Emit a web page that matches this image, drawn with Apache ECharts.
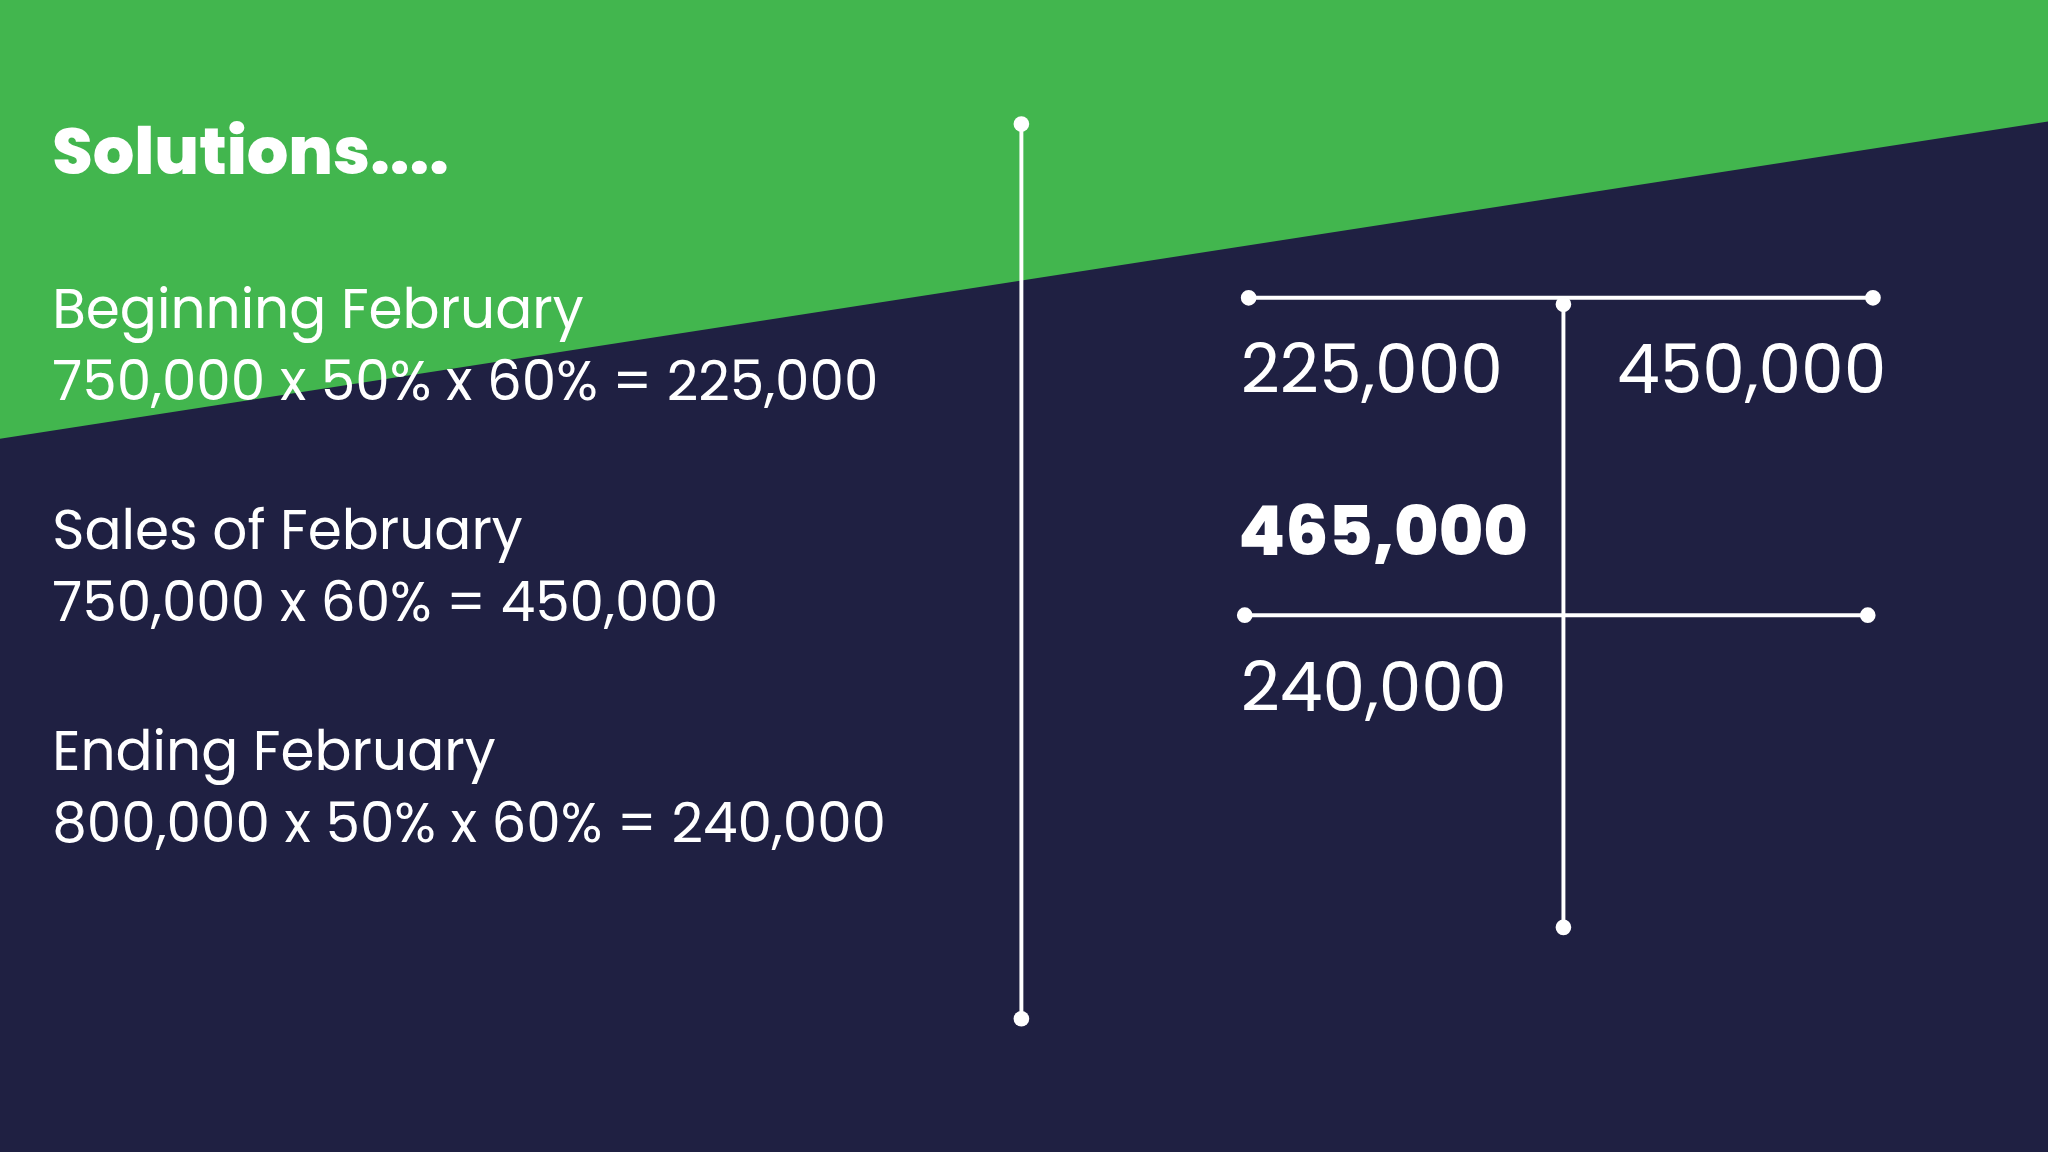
<!DOCTYPE html>
<html><head><meta charset="utf-8">
<script src="https://cdn.jsdelivr.net/npm/echarts@6/dist/echarts.min.js"></script>
<style>html,body{margin:0;padding:0;background:#1f2042}#c{width:2048px;height:1152px}</style>
</head><body><div id="c"></div>
<script>
const title = 'Solutions....';
const leftLines = ['Beginning February','750,000 x 50% x 60% = 225,000','Sales of February','750,000 x 60% = 450,000','Ending February','800,000 x 50% x 60% = 240,000'];
const debitValues = ['225,000'];
const creditValues = ['450,000'];
const balanceValue = '465,000';
const endingValue = '240,000';

const S = 2048/1568;
const p = v => v*S;
const F = 'Poppins, Inter, "Noto Sans", sans-serif';
const W = '#ffffff';
const g = [];
g.push({type:'rect',shape:{x:0,y:0,width:2048,height:1152},style:{fill:'#1f2042'},z:0});
g.push({type:'polygon',shape:{points:[[0,0],[2048,0],[2048,p(93)],[0,p(336)]]},style:{fill:'#42b64e'},z:1});
g.push({type:'text',x:p(40),y:p(121),style:{text:title,fill:W,font:`800 ${p(50)}px ${F}`,textVerticalAlign:'middle'},z:5});
const ly=[241,296,410,465,579,634];
leftLines.forEach((t,i)=>g.push({type:'text',x:p(40),y:p(ly[i]),style:{text:t,fill:W,font:`400 ${p(42)}px ${F}`,textVerticalAlign:'middle'},z:5}));
function line(x1,y1,x2,y2,dots){
  g.push({type:'line',shape:{x1:p(x1),y1:p(y1),x2:p(x2),y2:p(y2)},style:{stroke:W,lineWidth:p(3)},z:5});
  dots.forEach(d=>g.push({type:'circle',shape:{cx:p(d[0]),cy:p(d[1]),r:p(6)},style:{fill:W},z:6}));
}
line(782,95,782,780,[[782,95],[782,780]]);
line(956,228,1434,228,[[956,228],[1434,228]]);
line(1197,233,1197,710,[[1197,233],[1197,710]]);
line(953,471,1430,471,[[953,471],[1430,471]]);
const num=(t,x,y,b)=>g.push({type:'text',x:p(x),y:p(y),style:{text:t,fill:W,font:`${b?800:400} ${p(52)}px ${F}`,textVerticalAlign:'middle'},z:5});
debitValues.forEach(v=>num(v,950,288,false));
creditValues.forEach(v=>num(v,1238,288,false));
num(balanceValue,948,412,true);
num(endingValue,950,531,false);
const chart = echarts.init(document.getElementById('c'));
chart.setOption({animation:false,graphic:g});
</script></body></html>
